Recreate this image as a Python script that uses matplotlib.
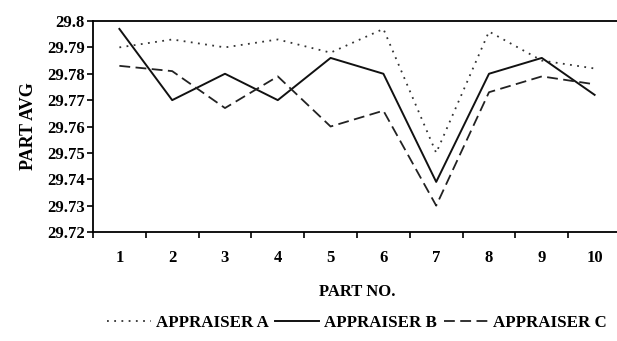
import numpy as np
import matplotlib.pyplot as plt

# data
parts = [1, 2, 3, 4, 5, 6, 7, 8, 9, 10]
appraiser_a = [29.790, 29.793, 29.790, 29.793, 29.788, 29.797, 29.750, 29.796, 29.785, 29.782]
appraiser_b = [29.797, 29.770, 29.780, 29.770, 29.786, 29.780, 29.739, 29.780, 29.786, 29.772]
appraiser_c = [29.783, 29.781, 29.767, 29.779, 29.760, 29.766, 29.730, 29.773, 29.779, 29.776]
y_ticks = [29.72, 29.73, 29.74, 29.75, 29.76, 29.77, 29.78, 29.79, 29.8]

plt.rcParams['font.family'] = ['Liberation Serif', 'DejaVu Serif']

fig = plt.figure(figsize=(6.17, 3.41), dpi=100)
ax = fig.add_axes([0.1507, 0.3196, 0.8558, 0.6188])

ax.plot(parts, appraiser_a, color="#333333", lw=1.3, linestyle=(0, (1, 3)), label="APPRAISER A")
ax.plot(parts, appraiser_b, color="#111111", lw=1.4, linestyle="-", label="APPRAISER B")
ax.plot(parts, appraiser_c, color="#222222", lw=1.3, linestyle=(0, (6, 3)), label="APPRAISER C")

ax.set_xlim(0.5, 10.5)
ax.set_ylim(29.72, 29.8)
ax.set_yticks(y_ticks)
ax.set_yticklabels([f"{v:g}" for v in y_ticks])
ax.set_xticks(parts)
ax.set_xticks(np.arange(0.5, 11, 1), minor=True)
ax.tick_params(axis="x", which="major", length=0, pad=13, labelsize=12)
ax.tick_params(axis="x", which="minor", length=4, width=1.2, direction="out")
ax.tick_params(axis="y", length=4, width=1.2, direction="out", pad=2, labelsize=12)
for lab in ax.get_xticklabels() + ax.get_yticklabels():
    lab.set_fontweight("bold")

for s in ax.spines.values():
    s.set_linewidth(1.3)
ax.spines["right"].set_visible(False)

ax.set_ylabel("PART AVG", fontsize=13, fontweight="semibold", labelpad=7)
ax.set_xlabel("PART NO.", fontsize=12, fontweight="semibold", labelpad=13)

fig.legend(loc="lower left", bbox_to_anchor=(0.148, -0.015), ncol=3, frameon=False,
           prop={"size": 12.2, "weight": "semibold"},
           handlelength=2.6, handletextpad=0.3, columnspacing=0.4)

fig.savefig("out.png", dpi=100)
